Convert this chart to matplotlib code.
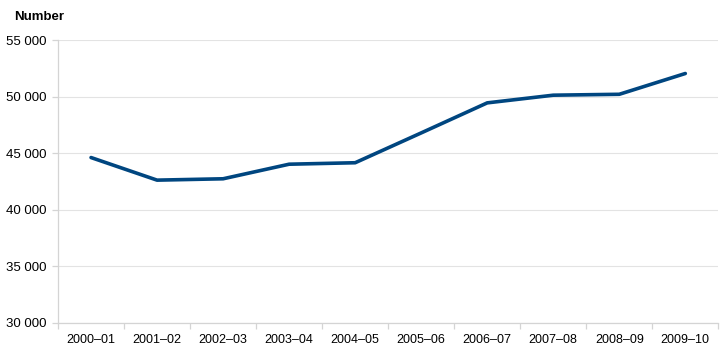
import numpy as np
import matplotlib
matplotlib.use("Agg")
import matplotlib.pyplot as plt

# data
years = ["2000–01", "2001–02", "2002–03", "2003–04", "2004–05",
         "2005–06", "2006–07", "2007–08", "2008–09", "2009–10"]
values = [44620, 42620, 42740, 44030, 44160, 46800, 49460, 50140, 50220, 52060]
y_ticks = [30000, 35000, 40000, 45000, 50000, 55000]

plt.rcParams["font.family"] = ["Liberation Sans", "DejaVu Sans"]

fig = plt.figure(figsize=(7.28, 3.55), dpi=100)
ax = fig.add_axes([0.0797, 0.091, 0.907, 0.7955])

x = np.arange(len(years))
ax.plot(x, values, color="#004680", linewidth=2.6, solid_joinstyle="round",
        solid_capstyle="round", zorder=3)

ax.set_xlim(-0.5, len(years) - 0.5)
ax.set_ylim(30000, 55000)

ax.set_yticks(y_ticks)
ax.set_yticklabels([f"{v:,}".replace(",", " ") for v in y_ticks])
ax.set_xticks(x)
ax.set_xticklabels(years)
ax.set_xticks(np.arange(-0.5, len(years)), minor=True)

ax.grid(axis="y", color="#e3e3e3", linewidth=0.8, zorder=0)
for side in ["top", "right"]:
    ax.spines[side].set_visible(False)
for side in ["left", "bottom"]:
    ax.spines[side].set_color("#d4d4d4")
    ax.spines[side].set_linewidth(0.9)

ax.tick_params(axis="x", which="major", length=0, pad=8, labelsize=9, colors="#000000")
ax.tick_params(axis="x", which="minor", length=4, color="#d4d4d4", width=0.9)
ax.tick_params(axis="y", length=4, color="#d4d4d4", width=0.9, pad=4, labelsize=9.5)

fig.text(14 / 728, 1 - 17 / 355, "Number", fontsize=9.5, fontweight="bold",
         va="center", ha="left")

fig.savefig("out.png", dpi=100, facecolor="white")
